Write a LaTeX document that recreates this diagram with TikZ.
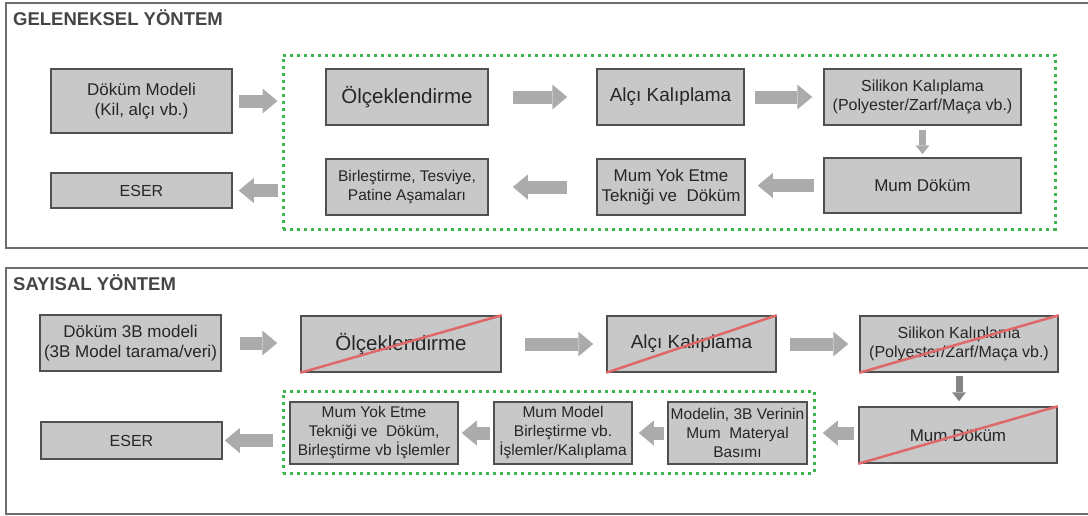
\documentclass[tikz,border=0pt]{standalone}
\usepackage{fontspec}
\setmainfont{Liberation Sans}
\usetikzlibrary{arrows.meta}
\definecolor{boxfill}{HTML}{C8C8C8}
\definecolor{boxline}{HTML}{505050}
\definecolor{arrowgray}{HTML}{ABABAB}
\definecolor{arrowdark}{HTML}{858585}
\definecolor{greendot}{HTML}{3DB54A}
\definecolor{slashred}{HTML}{E06868}
\definecolor{panelline}{HTML}{6E6E6E}
\definecolor{txt}{HTML}{262626}
\definecolor{titletxt}{HTML}{454545}
\begin{document}
\begin{tikzpicture}[x=1pt,y=-1pt,
  box/.style={draw=boxline, line width=1.5pt, fill=boxfill, inner sep=0pt, align=center, text=txt},
  fe/.style={font=\fontsize{20.5}{23}\selectfont},
  fa/.style={font=\fontsize{19}{22}\selectfont},
  fb/.style={font=\fontsize{17}{19.5}\selectfont},
  fc/.style={font=\fontsize{16}{18.5}\selectfont},
  fd/.style={font=\fontsize{15.5}{19}\selectfont},
  harrow/.style={draw=arrowgray, line width=13pt, -{Triangle[width=25pt,length=15pt,line width=0pt]}},
  varrow/.style={draw=arrowgray, line width=7pt, -{Triangle[width=14pt,length=9pt,line width=0pt]}},
  varrowdark/.style={draw=arrowdark, line width=7pt, -{Triangle[width=14pt,length=9pt,line width=0pt]}},
  greenframe/.style={draw=greendot, line width=3pt, dash pattern=on 3pt off 4pt, inner sep=0pt},
  panel/.style={draw=panelline, line width=2pt},
  slash/.style={draw=slashred, line width=2.5pt},
  paneltitle/.style={font=\bfseries\fontsize{18.5}{22}\selectfont, text=titletxt, inner sep=0pt, anchor=base west}
]
\useasboundingbox (0,0) rectangle (1088,515);
\clip (0,0) rectangle (1088,515);
\fill[white] (0,0) rectangle (1088,515);

% ---------- panels ----------
\draw[panel] (6,3) rectangle (1100,248);
\draw[panel] (6,268) rectangle (1100,514);
\node[paneltitle] (t1) at (13,25) {GELENEKSEL YÖNTEM};
\node[paneltitle] (t2) at (13,290) {SAYISAL YÖNTEM};

% ---------- top panel ----------
\node[greenframe, minimum width=772pt, minimum height=174pt] (green1) at (669,142) {};
\node[box, fb, minimum width=181pt, minimum height=64pt] (dm1) at (141.5,101) {Döküm Modeli\\(Kil, alçı vb.)};
\node[box, fc, minimum width=181pt, minimum height=35pt] (eser1) at (141.5,190.5) {ESER};
\node[box, fe, minimum width=162pt, minimum height=56pt] (olc1) at (407,97) {Ölçeklendirme};
\node[box, fa, minimum width=147pt, minimum height=56pt] (alc1) at (670.5,97) {Alçı Kalıplama};
\node[box, fc, minimum width=197pt, minimum height=56pt] (sil1) at (922.5,97) {Silikon Kalıplama\\(Polyester/Zarf/Maça vb.)};
\node[box, fb, minimum width=197pt, minimum height=55pt] (mum1) at (922.5,185.5) {Mum Döküm};
\node[box, fb, minimum width=148pt, minimum height=56pt] (yok1) at (671,187) {Mum Yok Etme\\Tekniği ve\ \ Döküm};
\node[box, fd, minimum width=162pt, minimum height=56pt] (bir1) at (407,187) {Birleştirme, Tesviye,\\Patine Aşamaları};

\draw[harrow, shorten <=6pt, shorten >=4pt] (dm1.east) -- (dm1.east -| green1.west);
\draw[harrow, shorten <=24pt, shorten >=29pt] (olc1.east) -- (alc1.west);
\draw[harrow, shorten <=10pt, shorten >=11pt] (alc1.east) -- (sil1.west);
\draw[varrow, shorten <=4pt, shorten >=3pt] (sil1.south) -- (mum1.north);
\draw[harrow, shorten <=9pt, shorten >=12pt] (mum1.west) -- (mum1.west -| yok1.east);
\draw[harrow, shorten <=29pt, shorten >=24pt] (yok1.west) -- (bir1.east);
\draw[harrow, shorten <=4pt, shorten >=6pt] (eser1.east -| green1.west) -- (eser1.east);

% ---------- bottom panel ----------
\node[greenframe, minimum width=531pt, minimum height=82pt] (green2) at (548.5,432) {};
\node[box, fb, minimum width=181pt, minimum height=56pt] (dm2) at (130.5,343) {Döküm 3B modeli\\(3B Model tarama/veri)};
\node[box, fe, minimum width=200pt, minimum height=56pt] (olc2) at (401,344) {Ölçeklendirme};
\node[box, fa, minimum width=169pt, minimum height=56pt] (alc2) at (691.5,344) {Alçı Kalıplama};
\node[box, fc, minimum width=198pt, minimum height=56pt] (sil2) at (959,344) {Silikon Kalıplama\\(Polyester/Zarf/Maça vb.)};
\node[box, fb, minimum width=198pt, minimum height=56pt] (mum2) at (958,435) {Mum Döküm};
\node[box, fd, minimum width=139pt, minimum height=62pt] (mod2) at (737.5,433) {Modelin, 3B Verinin\\Mum\ \ Materyal\\Basımı};
\node[box, fd, minimum width=138pt, minimum height=62pt] (mm2) at (563,433) {Mum Model\\Birleştirme vb.\\İşlemler/Kalıplama};
\node[box, fd, minimum width=168pt, minimum height=62pt] (yok2) at (374,433) {Mum Yok Etme\\Tekniği ve\ \ Döküm,\\Birleştirme vb İşlemler};
\node[box, fc, minimum width=181pt, minimum height=37pt] (eser2) at (131.5,440.5) {ESER};

\draw[slash] (olc2.south west) -- (olc2.north east);
\draw[slash] (alc2.south west) -- (alc2.north east);
\draw[slash] (sil2.south west) -- (sil2.north east);
\draw[slash] (mum2.south west) -- (mum2.north east);

\draw[harrow, shorten <=18pt, shorten >=23pt] (dm2.east) -- (dm2.east -| olc2.west);
\draw[harrow, shorten <=23pt, shorten >=13pt] (olc2.east) -- (alc2.west);
\draw[harrow, shorten <=13pt, shorten >=11pt] (alc2.east) -- (sil2.west);
\draw[varrowdark, shorten <=3pt, shorten >=5pt] (sil2.south) -- (sil2.south |- mum2.north);
\draw[harrow, shorten <=4pt, shorten >=15pt] (mum2.west |- mod2.east) -- (mod2.east);
\draw[harrow, shorten <=3pt, shorten >=6pt] (mod2.west) -- (mm2.east);
\draw[harrow, shorten <=3pt, shorten >=3pt] (mm2.west) -- (yok2.east);
\draw[harrow, shorten <=9pt, shorten >=2pt] (green2.west |- eser2.east) -- (eser2.east);
\end{tikzpicture}
\end{document}
